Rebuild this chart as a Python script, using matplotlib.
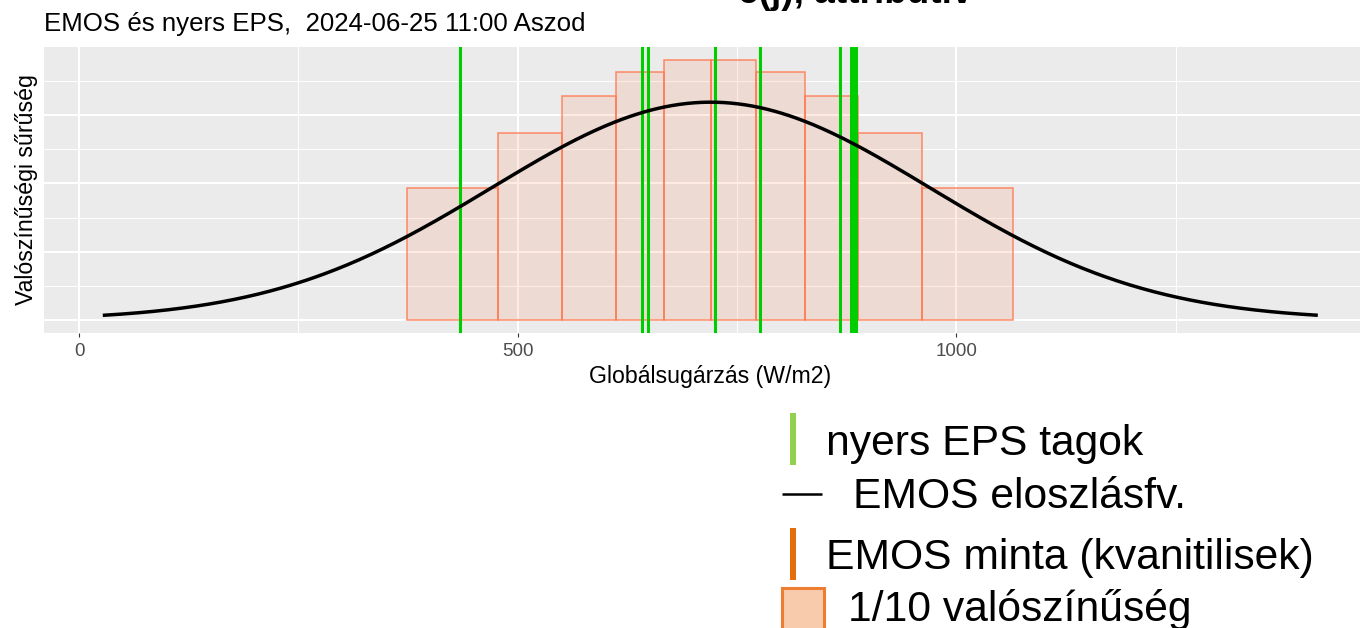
import numpy as np
import matplotlib
matplotlib.use("Agg")
import matplotlib.pyplot as plt
from matplotlib.patches import Rectangle

plt.rcParams['font.family'] = ['Liberation Sans', 'DejaVu Sans']

# ---------------- data ----------------
title = "EMOS és nyers EPS,  2024-06-25 11:00 Aszod"
top_heading = "e(j), attribútív"
x_label = "Globálsugárzás (W/m2)"
y_label = "Valószínűségi sűrűség"

# EMOS sample quantiles (bar edges) and bar densities (each bar = 1/10 prob.)
quantile_edges = [374, 478, 551, 612, 666.5, 720, 772, 827, 888, 961, 1065]
bar_density = [0.000964, 0.001368, 0.001644, 0.00182, 0.001905,
               0.001905, 0.00182, 0.001644, 0.001368, 0.000964]
# raw EPS members
eps_members = [434.7, 641.7, 648.6, 724.6, 775.9, 867.2, 879.7, 882.6, 885.4]
# EMOS predictive normal distribution
emos_mean = 720
emos_sd = 250
curve_range = [29, 1410]

x_ticks = [0, 500, 1000]
x_tick_labels = ["0", "500", "1000"]
x_minor = [250, 750, 1250]
y_major = [0, 0.0005, 0.001, 0.0015]
y_minor = [0.00025, 0.00075, 0.00125, 0.00175]

legend_labels = ["nyers EPS tagok", "EMOS eloszlásfv.",
                 "EMOS minta (kvanitilisek)", "1/10 valószínűség"]

# ---------------- figure ----------------
W, H = 1360, 628
fig = plt.figure(figsize=(W / 100, H / 100), dpi=100)
fig.patch.set_facecolor('white')

pl, pr, pt, pb = 44, 1376.6, 47, 333
ax = fig.add_axes([pl / W, 1 - pb / H, (pr - pl) / W, (pb - pt) / H])
ax.set_facecolor('#EBEBEB')
for s in ax.spines.values():
    s.set_visible(False)

edges = np.array(quantile_edges)
ax.bar(edges[:-1], bar_density, width=np.diff(edges), align='edge',
       facecolor=(1.0, 0.498, 0.314, 0.15),
       edgecolor=(1.0, 0.47, 0.31, 0.85), linewidth=1.1, zorder=2)

for m in eps_members:
    ax.axvline(m, color='#00CD00', linewidth=2.2, zorder=3)

xs = np.linspace(curve_range[0], curve_range[1], 500)
ys = np.exp(-0.5 * ((xs - emos_mean) / emos_sd) ** 2) / (emos_sd * np.sqrt(2 * np.pi))
ax.plot(xs, ys, color='black', linewidth=2.5, zorder=4)

ax.set_xlim(-40, 1479)
ax.set_ylim(-0.0000953, 0.002)
ax.set_xticks(x_ticks)
ax.set_xticklabels(x_tick_labels)
ax.set_xticks(x_minor, minor=True)
ax.set_yticks(y_major)
ax.set_yticks(y_minor, minor=True)
ax.grid(which='major', color='white', linewidth=1.5, zorder=0)
ax.grid(which='minor', color='white', linewidth=0.7, zorder=0)
ax.set_axisbelow(True)
ax.tick_params(axis='x', which='major', length=3, width=0.8, color='#333333',
               labelsize=13.6, labelcolor='#4D4D4D', pad=4)
ax.tick_params(axis='x', which='minor', length=0)
ax.tick_params(axis='y', which='both', length=0, labelleft=False)

# ---------------- overlay (pixel coordinates) ----------------
ov = fig.add_axes([0, 0, 1, 1], zorder=10)
ov.set_xlim(0, W)
ov.set_ylim(H, 0)
ov.axis('off')
ov.patch.set_alpha(0)

ov.text(738, 3, top_heading, fontsize=26.6, fontweight='bold', ha='left', va='baseline')
ov.text(44, 31, title, fontsize=18.6, ha='left', va='baseline', color='black')
ov.text(710, 383, x_label, fontsize=16.7, ha='center', va='baseline', color='black')
ov.text(33.3, 190, y_label, fontsize=16.7, rotation=90, rotation_mode='anchor',
        ha='center', va='baseline', color='black')

# manual legend
fs = 30.7
ov.plot([793, 793], [413, 465], color='#92D050', linewidth=4.3, solid_capstyle='butt')
ov.text(826, 455, legend_labels[0], fontsize=fs, ha='left', va='baseline')
ov.plot([782, 822], [494, 494], color='black', linewidth=1.8, solid_capstyle='butt')
ov.text(853, 508, legend_labels[1], fontsize=fs, ha='left', va='baseline')
ov.plot([793, 793], [528, 580], color='#E46C0A', linewidth=4.3, solid_capstyle='butt')
ov.text(826, 569, legend_labels[2], fontsize=fs, ha='left', va='baseline')
ov.add_patch(Rectangle((782, 588), 42, 45, facecolor='#F8CBAD', edgecolor='#ED7D31',
                       linewidth=2.2))
ov.text(848, 621, legend_labels[3], fontsize=fs, ha='left', va='baseline')

fig.savefig('out.png', dpi=100)
